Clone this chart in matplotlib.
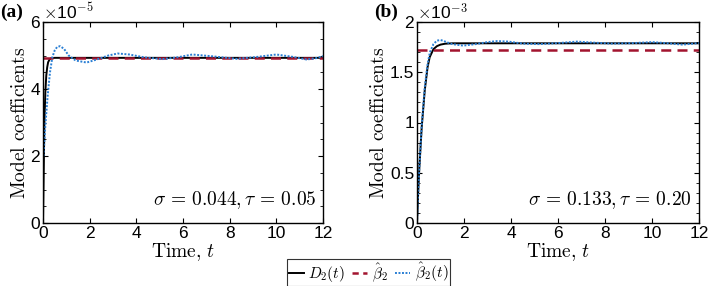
import matplotlib
matplotlib.use("Agg")
import matplotlib.pyplot as plt
from matplotlib.ticker import MultipleLocator
from matplotlib.lines import Line2D

plt.rcParams['mathtext.fontset'] = 'cm'
plt.rcParams['font.family'] = 'Liberation Sans'

# panel (a): values in units of 1e-5
t_d2_a = [0, 0.03, 0.06, 0.1, 0.14, 0.18, 0.22, 0.28, 0.35, 0.5, 12]
d2_a = [0, 1.5, 3.0, 3.9, 4.4, 4.65, 4.8, 4.88, 4.92, 4.93, 4.93]
beta_const_a = 4.93
t_bt_a = [0.02, 0.1, 0.2, 0.3, 0.4, 0.5, 0.6, 0.73, 0.9, 1.1, 1.4, 1.87, 2.3, 2.8,
          3.2, 3.7, 4.3, 5.1, 5.8, 6.4, 7.2, 8.3, 9.2, 10.0, 10.7, 11.3, 11.7, 12]
bt_a = [2.0, 2.9, 3.8, 4.5, 4.95, 5.15, 5.25, 5.28, 5.2, 5.0, 4.85, 4.79, 4.88, 5.0,
        5.06, 5.03, 4.95, 4.89, 4.95, 5.03, 4.98, 4.9, 4.96, 5.03, 4.96, 4.88, 4.92, 4.98]

# panel (b): values in units of 1e-3
t_d2_b = [0, 0.05, 0.1, 0.2, 0.33, 0.45, 0.54, 0.7, 0.85, 1.0, 1.2, 1.5, 2, 12]
d2_b = [0, 0.3, 0.55, 0.95, 1.32, 1.55, 1.65, 1.73, 1.76, 1.775, 1.784, 1.788, 1.788, 1.788]
beta_const_b = 1.72
t_bt_b = [0, 0.05, 0.1, 0.2, 0.33, 0.45, 0.55, 0.7, 0.85, 1.0, 1.1, 1.25, 1.5, 1.96,
          2.5, 3.0, 3.4, 3.9, 4.5, 5.2, 6.0, 6.8, 7.5, 8.3, 9.2, 10.0, 10.6, 11.3, 12]
bt_b = [0, 0.3, 0.55, 0.97, 1.35, 1.58, 1.7, 1.78, 1.815, 1.82, 1.815, 1.8, 1.78, 1.765,
        1.78, 1.8, 1.81, 1.805, 1.785, 1.78, 1.79, 1.805, 1.795, 1.785, 1.79, 1.80, 1.79, 1.775, 1.79]

c_black = 'black'
c_red = '#a2142f'
c_blue = '#2a7fd4'

W, H = 708, 286
fig = plt.figure(figsize=(W / 100, H / 100), dpi=100)


def box(x0, y0, x1, y1):
    return [x0 / W, 1 - y1 / H, (x1 - x0) / W, (y1 - y0) / H]


def panel(ax, t1, y1, const, t3, y3, ymax, major, minor, expo, note, tag):
    ax.plot(t1, y1, color=c_black, lw=1.4)
    ax.plot([0, 12], [const, const], color=c_red, lw=1.8, ls=(0, (4, 2.5)))
    ax.plot(t3, y3, color=c_blue, lw=1.4, ls=(0, (1, 0.8)))
    ax.set_xlim(0, 12)
    ax.set_ylim(0, ymax)
    ax.xaxis.set_major_locator(MultipleLocator(2))
    ax.yaxis.set_major_locator(MultipleLocator(major))
    ax.yaxis.set_minor_locator(MultipleLocator(minor))
    ax.tick_params(which='both', direction='in', top=True, right=True,
                   labelsize=12.5, pad=2)
    ax.tick_params(which='major', length=3.5, width=0.8)
    ax.tick_params(which='minor', length=2, width=0.6)
    for s in ax.spines.values():
        s.set_linewidth(1.0)
    ax.set_xlabel(r'$\mathrm{Time},\, t$', fontsize=14, labelpad=0)
    ax.set_ylabel(r'$\mathrm{Model\ coefficients}$', fontsize=14, labelpad=1)
    ax.text(0.975, 0.06, note, transform=ax.transAxes, ha='right', va='bottom',
            fontsize=14)
    ax.text(0.0, 1.0, r'$\times$10$^{' + expo + '}$', transform=ax.transAxes,
            ha='left', va='bottom', fontsize=12.5)
    ax.text(-0.152, 1.005, tag, transform=ax.transAxes, ha='left', va='bottom',
            fontsize=14, fontweight='bold', family='Liberation Serif')


ax1 = fig.add_axes(box(43, 22, 323, 223))
panel(ax1, t_d2_a, d2_a, beta_const_a, t_bt_a, bt_a, 6, 2, 0.5, '-5',
      r'$\sigma\, =\, 0.044, \tau\, =\, 0.05$', '(a)')
ax2 = fig.add_axes(box(417, 22, 699, 223))
panel(ax2, t_d2_b, d2_b, beta_const_b, t_bt_b, bt_b, 2, 0.5, 0.1, '-3',
      r'$\sigma\, =\, 0.133, \tau\, =\, 0.20$', '(b)')
ax2.yaxis.set_major_formatter(plt.FuncFormatter(lambda v, p: f'{v:g}'))

handles = [Line2D([], [], color=c_black, lw=1.4),
           Line2D([], [], color=c_red, lw=1.8, ls=(0, (2.5, 1.8))),
           Line2D([], [], color=c_blue, lw=1.4, ls=(0, (1, 0.8)))]
labels = [r'$D_2(t)$', r'$\hat{\beta}_2$', r'$\hat{\beta}_2(t)$']
leg = fig.legend(handles, labels, loc='center', bbox_to_anchor=(368.5 / W, 1 - 272.5 / H),
                 ncol=3, fontsize=11, frameon=True, fancybox=False,
                 handlelength=1.0, handletextpad=0.3, columnspacing=0.45,
                 borderpad=0.12, borderaxespad=0)
leg.get_frame().set_edgecolor('black')
leg.get_frame().set_linewidth(0.8)

fig.savefig('out.png', dpi=100)
